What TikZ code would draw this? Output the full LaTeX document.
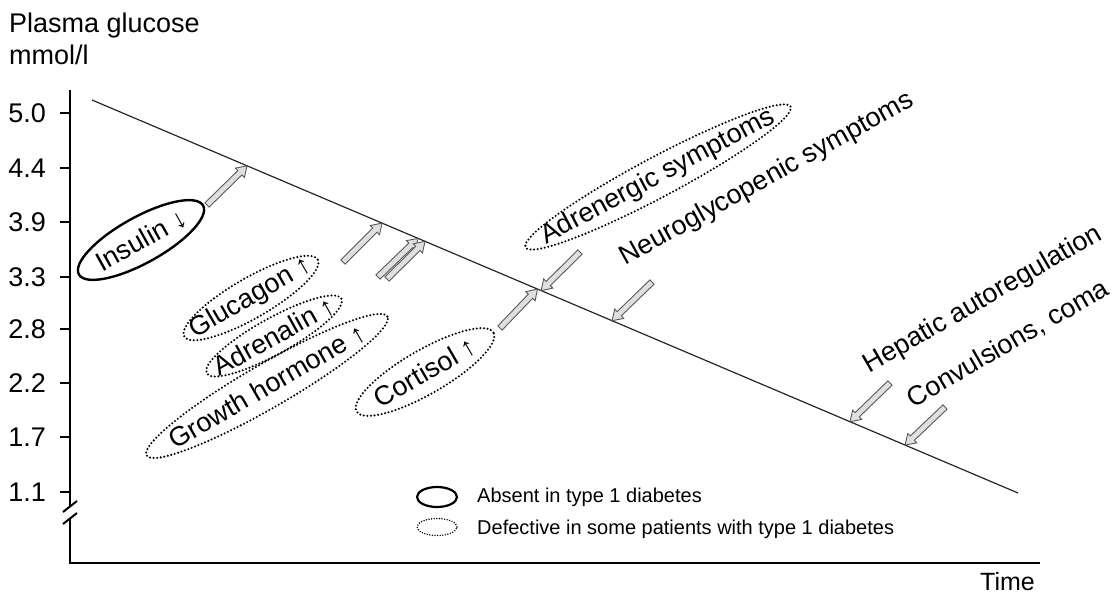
\documentclass[tikz,border=0pt]{standalone}
\usepackage{fontspec}
\setmainfont{Liberation Sans}
\usetikzlibrary{shapes.geometric,calc}
\tikzset{
  big/.style={font=\fontsize{27}{31}\selectfont, inner sep=0pt},
  legendtxt/.style={font=\fontsize{20}{24}\selectfont, inner sep=0pt, anchor=west},
  solidell/.style={ellipse, draw, line width=2.4pt, inner sep=0pt, outer sep=0pt, font=\fontsize{27}{31}\selectfont},
  dotell/.style={ellipse, draw, line width=2.3pt, dash pattern=on 0pt off 3.6pt, line cap=round, inner sep=0pt, outer sep=0pt, font=\fontsize{27}{31}\selectfont},
  garrow/.style={fill=gray!25, draw=black!65, line width=0.9pt, line join=miter},
  axisline/.style={line width=2.6pt},
  curve/.style={line width=1.2pt, black!85},
}
\newcommand\garr[2]{%
  \filldraw[garrow] ($(#1)!3pt!90:(#2)$) -- ($(#2)!10pt!(#1)!3pt!90:(#2)$)
    -- ($(#2)!10pt!(#1)!6.5pt!90:(#2)$) -- (#2)
    -- ($(#2)!10pt!(#1)!6.5pt!-90:(#2)$) -- ($(#2)!10pt!(#1)!3pt!-90:(#2)$)
    -- ($(#1)!3pt!-90:(#2)$) -- cycle;}
\begin{document}
\begin{tikzpicture}[x=1pt,y=-1pt]
\useasboundingbox (0,0) rectangle (1113,596);
% axis titles
\node[big, anchor=base west] (ytitle) at (9,33) {Plasma glucose};
\node[big, anchor=base west] (yunit) at (9,65) {mmol/l};
\node[big, font=\fontsize{25}{30}\selectfont, anchor=base west] (xtitle) at (980,590) {Time};
% axes
\coordinate (ytop) at (70,90);
\coordinate (ybrk1) at (70,506);
\coordinate (ybrk2) at (70,518);
\coordinate (orig) at (70,563);
\coordinate (xend) at (1040,563);
\draw[axisline] (ytop) -- (ybrk1);
\draw[axisline] (ybrk2) -- (orig) -- (xend);
\coordinate (s1a) at (63,512); \coordinate (s1b) at (77,501);
\coordinate (s2a) at (63,524); \coordinate (s2b) at (77,513);
\draw[line width=2pt] (s1a) -- (s1b);
\draw[line width=2pt] (s2a) -- (s2b);
% ticks
\foreach \v/\y [count=\i] in {5.0/113,4.4/168,3.9/222,3.3/277,2.8/329,2.2/383,1.7/437,1.1/492}{
  \coordinate (tk\i) at (60,\y);
  \coordinate (tke\i) at (70,\y);
  \draw[line width=2.2pt] (tk\i) -- (tke\i);
  \node[big, anchor=east] (lab\i) at (46,\y) {\v};
}
% main line
\coordinate (L1) at (92,100);
\coordinate (L2) at (1018,493);
\draw[curve] (L1) -- (L2);
% arrow tips on the line
\coordinate (p1) at ($(L1)!0.1674!(L2)$);
\coordinate (p2) at ($(L1)!0.3132!(L2)$);
\coordinate (p3) at ($(L1)!0.3521!(L2)$);
\coordinate (p4) at ($(L1)!0.3596!(L2)$);
\coordinate (p5) at ($(L1)!0.481!(L2)$);
\coordinate (p6) at ($(L1)!0.485!(L2)$);
\coordinate (p7) at ($(L1)!0.5616!(L2)$);
\coordinate (p8) at ($(L1)!0.8186!(L2)$);
\coordinate (p9) at ($(L1)!0.878!(L2)$);
% arrow tails
\coordinate (q1) at (207,205);
\coordinate (q2) at (343,262);
\coordinate (q3) at (378,277);
\coordinate (q4) at (387,279);
\coordinate (q5) at (500,328);
\coordinate (q6) at (580,252);
\coordinate (q7) at (652,282);
\coordinate (q8) at (890,383);
\coordinate (q9) at (945,407);
\garr{q1}{p1}
\garr{q2}{p2}
\garr{q3}{p3}
\garr{q4}{p4}
\garr{q5}{p5}
\garr{q6}{p6}
\garr{q7}{p7}
\garr{q8}{p8}
\garr{q9}{p9}
% hormone ellipses
\node[solidell, minimum width=142, minimum height=46, rotate=29] (insulin) at (141,240) {\makebox[0pt]{Insulin ↓}};
\node[dotell, minimum width=154, minimum height=40, rotate=30] (glucagon) at (251,298) {\makebox[0pt]{Glucagon ↑}};
\node[dotell, minimum width=154, minimum height=36, rotate=29] (adrenalin) at (274,336) {\makebox[0pt]{Adrenalin ↑}};
\node[dotell, minimum width=278, minimum height=44, rotate=30] (growth) at (267,386) {\makebox[0pt]{Growth hormone ↑}};
\node[dotell, minimum width=158, minimum height=44, rotate=30] (cortisol) at (425,372) {\makebox[0pt]{Cortisol ↑}};
% symptom labels
\node[dotell, minimum width=300, minimum height=40, rotate=28] (adrsym) at (658,177) {\makebox[0pt]{Adrenergic symptoms}};
\node[big, rotate=29] (neuro) at (767,179) {Neuroglycopenic symptoms};
\node[big, rotate=30] (hepatic) at (983,300) {Hepatic autoregulation};
\node[big, rotate=30] (conv) at (1008,344) {Convulsions, coma};
% legend
\node[ellipse, draw, line width=2.2pt, minimum width=40, minimum height=20, inner sep=0pt] (lg1) at (437,497) {};
\node[ellipse, draw, line width=1.6pt, dash pattern=on 0pt off 2.6pt, line cap=round, minimum width=40, minimum height=17, inner sep=0pt] (lg2) at (437,527) {};
\node[legendtxt] (lt1) at (477,497) {Absent in type 1 diabetes};
\node[legendtxt] (lt2) at (477,529) {Defective in some patients with type 1 diabetes};
\end{tikzpicture}
\end{document}
